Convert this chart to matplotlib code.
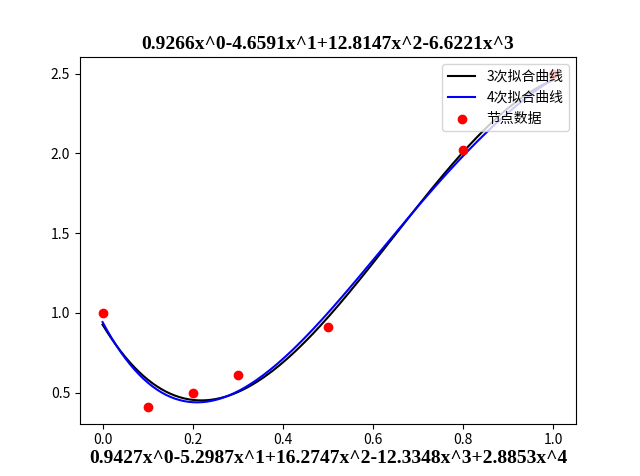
import numpy as np
import matplotlib
matplotlib.use("Agg")
import matplotlib.pyplot as plt

plt.rcParams['font.family'] = ['Noto Sans CJK SC', 'DejaVu Sans']
plt.rcParams['axes.unicode_minus'] = False

x_nodes = [0.0, 0.1, 0.2, 0.3, 0.5, 0.8, 1.0]
y_nodes = [1.0, 0.41, 0.50, 0.61, 0.91, 2.02, 2.50]
coef3 = [0.9266, -4.6591, 12.8147, -6.6221]
coef4 = [0.9427, -5.2987, 16.2747, -12.3348, 2.8853]

def poly(c, x):
    return sum(ci * x**i for i, ci in enumerate(c))

fig, ax = plt.subplots(figsize=(6.4, 4.76), dpi=100)
xs = np.linspace(0, 1, 200)
ax.plot(xs, poly(coef3, xs), color='black', label='3次拟合曲线')
ax.plot(xs, poly(coef4, xs), color='blue', label='4次拟合曲线')
ax.scatter(x_nodes, y_nodes, color='red', label='节点数据', zorder=3)
ax.legend(loc='upper right')
serif = dict(family='Liberation Serif', weight='bold', size=14)
ax.set_title('0.9266x^0-4.6591x^1+12.8147x^2-6.6221x^3', fontdict=serif)
ax.set_xlabel('0.9427x^0-5.2987x^1+16.2747x^2-12.3348x^3+2.8853x^4', fontdict=serif, labelpad=2)
fig.savefig('out.png')
